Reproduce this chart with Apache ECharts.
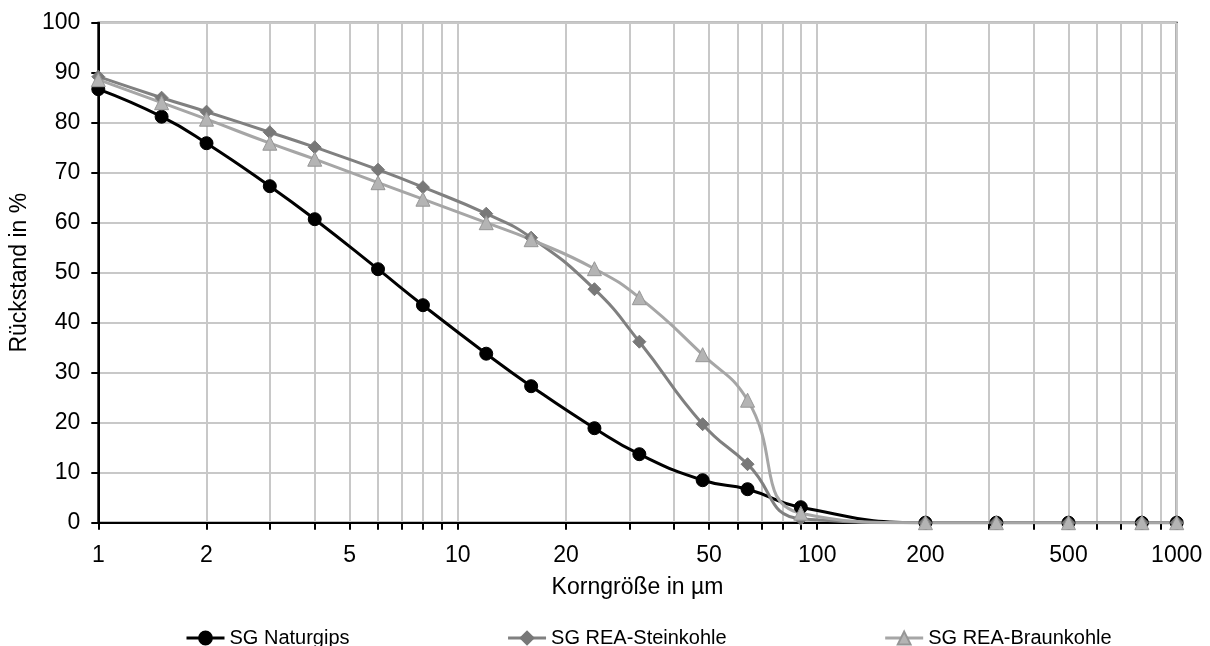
<!DOCTYPE html>
<html>
<head>
<meta charset="utf-8">
<script src="https://cdn.jsdelivr.net/npm/echarts@6/dist/echarts.min.js"></script>
<style>
html,body{margin:0;padding:0;background:#fff;}
#chart{width:1210px;height:646px;}
</style>
</head>
<body>
<div id="chart"></div>
<script>
// Korngröße in µm
const sizes = [1, 1.5, 2, 3, 4, 6, 8, 12, 16, 24, 32, 48, 64, 90, 200, 315, 500, 800, 1000];
// Rückstand in %
const naturgips   = [86.7, 81.2, 75.9, 67.3, 60.7, 50.7, 43.5, 33.8, 27.3, 18.9, 13.7, 8.5, 6.7, 3.1, 0, 0, 0, 0, 0];
const steinkohle  = [89.2, 85.0, 82.2, 78.1, 75.1, 70.6, 67.1, 61.8, 57.0, 46.7, 36.2, 19.7, 11.7, 0.8, 0, 0, 0, 0, 0];
const braunkohle  = [88.6, 84.0, 80.7, 75.9, 72.7, 68.0, 64.7, 60.0, 56.6, 50.8, 45.0, 33.6, 24.5, 1.9, 0, 0, 0, 0, 0];
const seriesNames = ['SG Naturgips', 'SG REA-Steinkohle', 'SG REA-Braunkohle'];
const xLabelValues = [1, 2, 5, 10, 20, 50, 100, 200, 500, 1000];
const xTickValues = [1,2,3,4,5,6,7,8,9,10,20,30,40,50,60,70,80,90,100,200,300,400,500,600,700,800,900,1000];

function pairs(vals) { return sizes.map((s, i) => [s, vals[i]]); }

const chart = echarts.init(document.getElementById('chart'));
const font = 'Liberation Sans, Arial, sans-serif';
chart.setOption({
  animation: false,
  backgroundColor: '#fff',
  textStyle: { fontFamily: font },
  grid: { left: 98.3, right: 33.3, top: 22.7, bottom: 123.3, show: true, borderColor: '#000', borderWidth: 2, containLabel: false },
  legend: {
    left: 180, top: 623, itemGap: 157, itemWidth: 38, itemHeight: 16,
    lineStyle: { width: 3 },
    textStyle: { fontSize: 20, color: '#000', fontFamily: font },
    data: seriesNames
  },
  xAxis: {
    type: 'log', logBase: 10, min: 1, max: 1000,
    name: 'Korngröße in µm', nameLocation: 'middle', nameGap: 53,
    nameTextStyle: { fontSize: 23, color: '#000', fontFamily: font },
    axisLine: { show: true, lineStyle: { color: '#000', width: 2 } },
    axisTick: { show: true, inside: false, length: 7, lineStyle: { color: '#000', width: 2 }, customValues: xTickValues },
    axisLabel: { fontSize: 23, color: '#000', margin: 21, fontFamily: font, customValues: xLabelValues, formatter: v => String(v) },
    splitLine: { show: true, lineStyle: { color: '#c8c8c8', width: 2 } },
    minorTick: { show: false }
  },
  yAxis: {
    type: 'value', min: 0, max: 100, interval: 10,
    name: 'Rückstand in %', nameLocation: 'middle', nameGap: 66,
    nameTextStyle: { fontSize: 23, color: '#000', fontFamily: font },
    axisLine: { show: true, lineStyle: { color: '#000', width: 2 } },
    axisTick: { show: true, inside: false, length: 7, lineStyle: { color: '#000', width: 2 } },
    axisLabel: { fontSize: 23, color: '#000', margin: 18, fontFamily: font },
    splitLine: { show: true, lineStyle: { color: '#c8c8c8', width: 2 } }
  },
  series: [
    {
      name: seriesNames[0], type: 'line', data: pairs(naturgips), smooth: 0.5,
      symbol: 'circle', symbolSize: 13,
      lineStyle: { color: '#000', width: 3 },
      itemStyle: { color: '#000', borderColor: '#000', borderWidth: 1 }
    },
    {
      name: seriesNames[1], type: 'line', data: pairs(steinkohle), smooth: 0.5,
      symbol: 'diamond', symbolSize: 13,
      lineStyle: { color: '#808080', width: 3 },
      itemStyle: { color: '#787878', borderColor: '#787878', borderWidth: 1 }
    },
    {
      name: seriesNames[2], type: 'line', data: pairs(braunkohle), smooth: 0.5,
      symbol: 'triangle', symbolSize: 14,
      lineStyle: { color: '#a6a6a6', width: 3 },
      itemStyle: { color: '#b4b4b4', borderColor: '#969696', borderWidth: 1 }
    }
  ]
});
</script>
</body>
</html>
